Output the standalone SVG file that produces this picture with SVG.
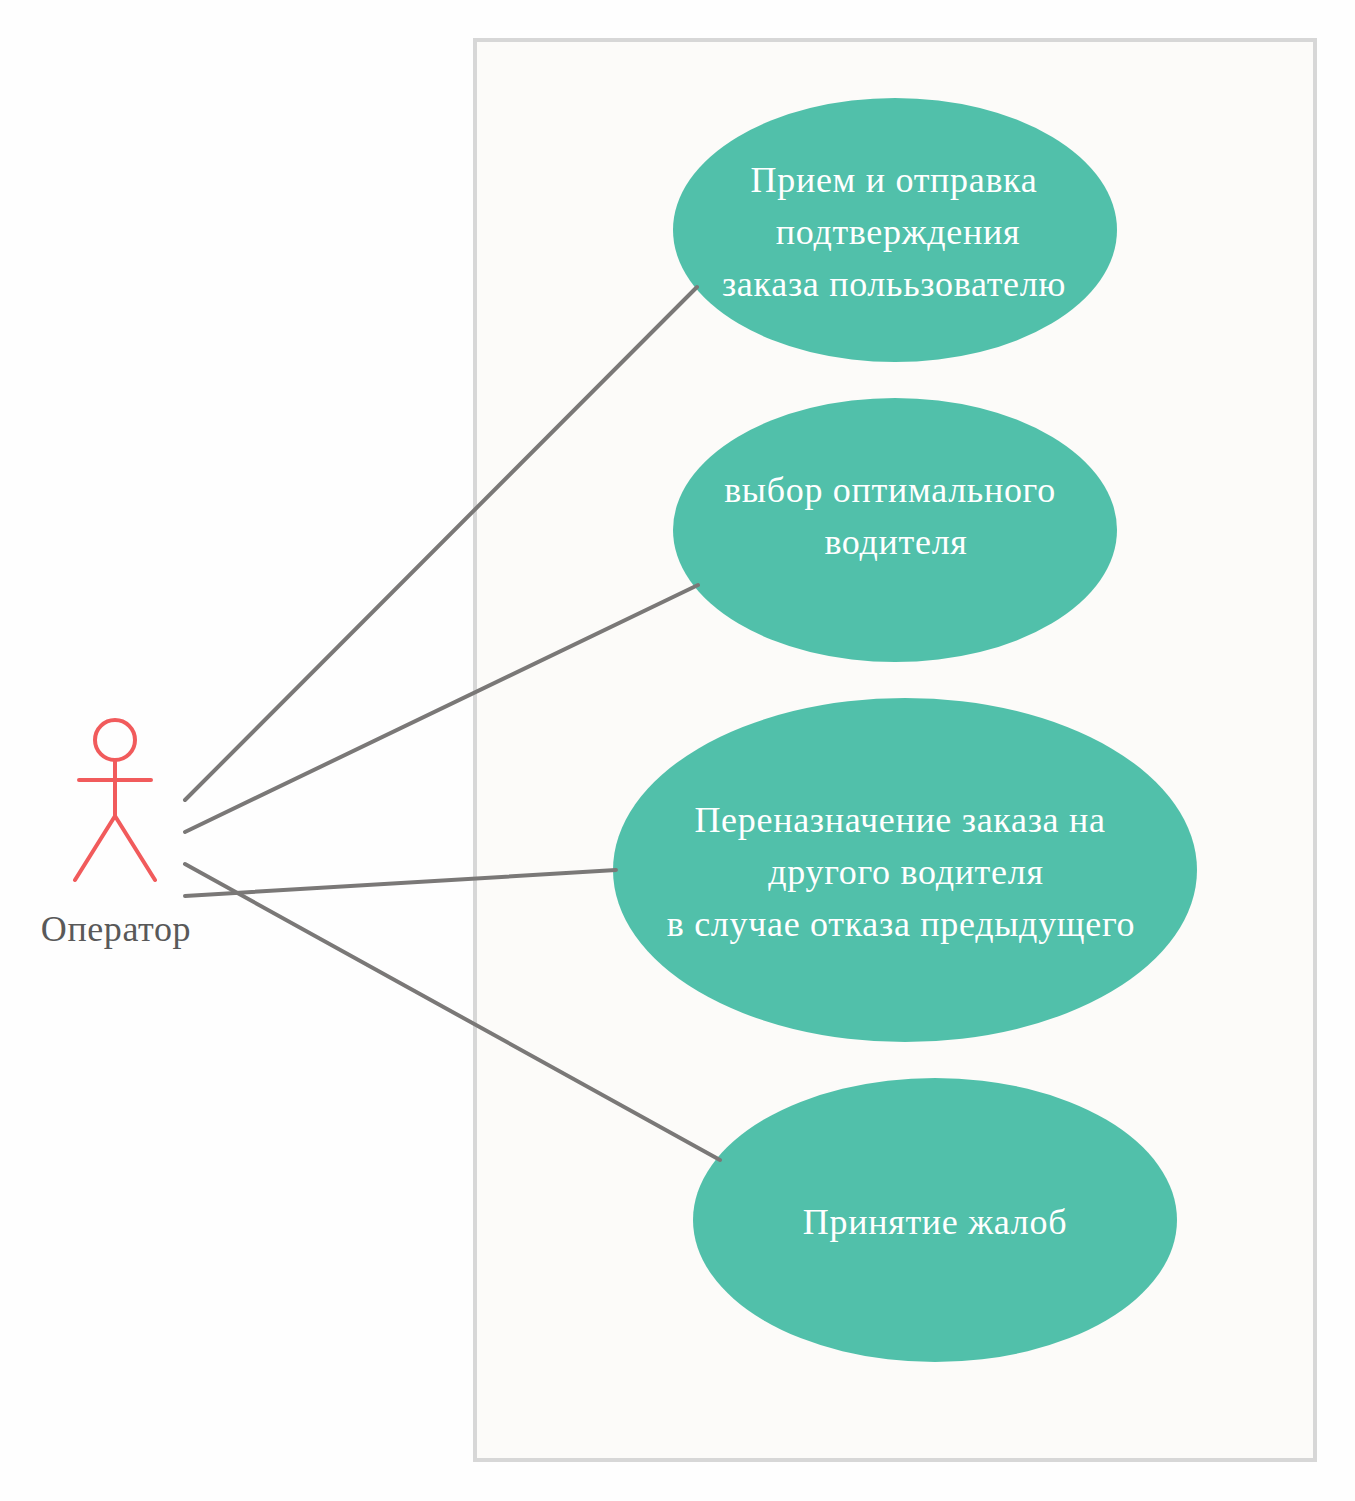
<svg xmlns="http://www.w3.org/2000/svg" width="1355" height="1501" viewBox="0 0 1355 1501">
<style>
.uc{fill:#51c0aa}
.t{font-family:"Liberation Serif",serif;font-size:36px;letter-spacing:.7px;fill:#fff;text-anchor:middle}
.c{stroke:#7a7877;stroke-width:4;fill:none;stroke-linecap:round}
.a{stroke:#f15b5c;stroke-width:4;fill:none;stroke-linecap:round}
</style>
<rect width="1355" height="1501" fill="#fefefe"/>
<rect id="boundary" x="475" y="40" width="840" height="1420" fill="#fcfbf9" stroke="#d7d7d7" stroke-width="4"/>
<g id="actor">
<circle class="a" cx="115" cy="740" r="20"/>
<path class="a" d="M115 760V816M79 780H151M115 816L75 880M115 816L155 880"/>
<text x="116" y="941" style="font-family:'Liberation Serif',serif;font-size:36px;letter-spacing:.6px;fill:#595959;text-anchor:middle">Оператор</text>
</g>
<g id="uc1"><ellipse class="uc" cx="895" cy="230" rx="222" ry="132"/>
<text class="t" x="894" y="192">Прием и отправка</text><text class="t" x="898" y="244">подтверждения</text><text class="t" x="894" y="296">заказа полььзователю</text></g>
<g id="uc2"><ellipse class="uc" cx="895" cy="530" rx="222" ry="132"/>
<text class="t" x="890" y="502">выбор оптимального</text><text class="t" x="896" y="554">водителя</text></g>
<g id="uc3"><ellipse class="uc" cx="905" cy="870" rx="292" ry="172"/>
<text class="t" x="900" y="832">Переназначение заказа на</text><text class="t" x="906" y="884">другого водителя</text><text class="t" x="901" y="936">в случае отказа предыдущего</text></g>
<g id="uc4"><ellipse class="uc" cx="935" cy="1220" rx="242" ry="142"/>
<text class="t" x="935" y="1234">Принятие жалоб</text></g>
<g id="connectors">
<path class="c" d="M185 800L697 287"/>
<path class="c" d="M185 832L698 585"/>
<path class="c" d="M185 896L616 870"/>
<path class="c" d="M185 864L720 1160"/>
</g>
</svg>
